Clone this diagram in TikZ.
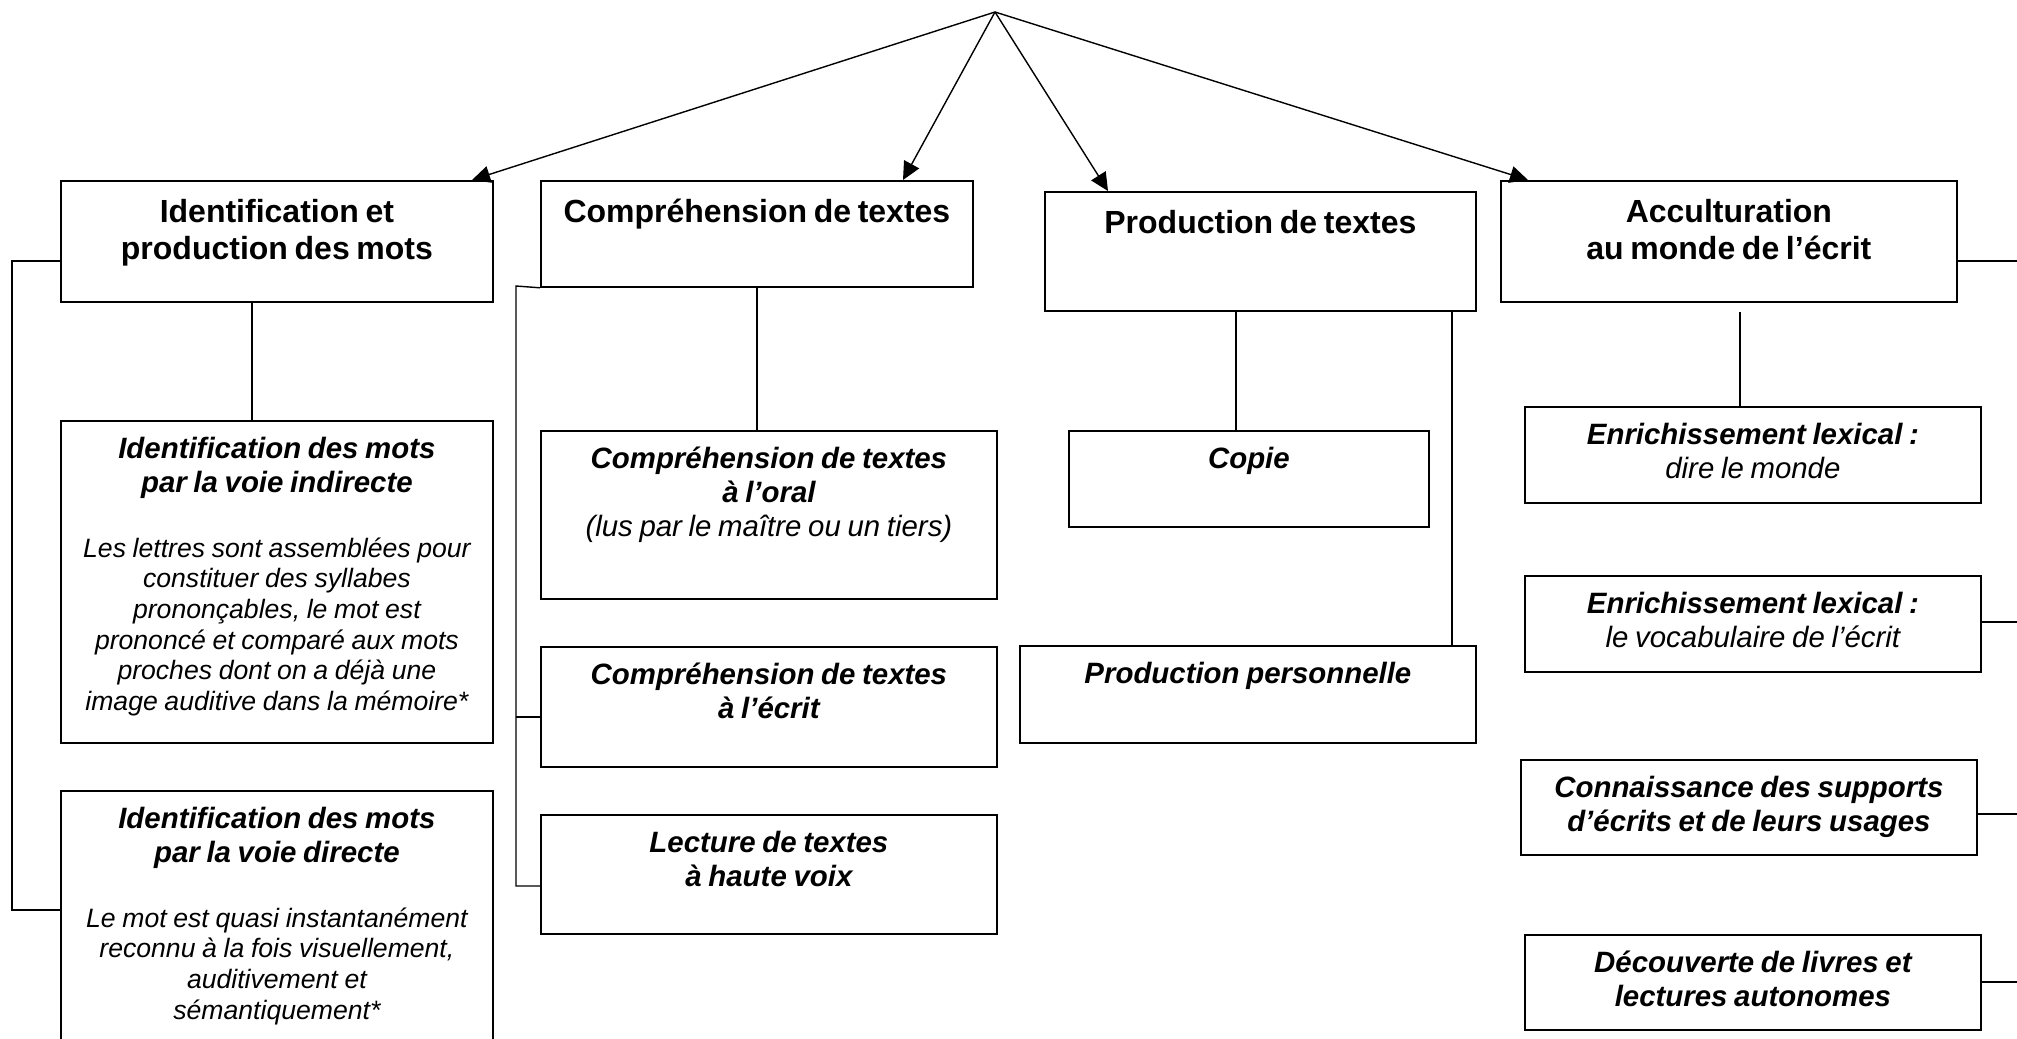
\documentclass[tikz,border=0pt]{standalone}
\usepackage{fontspec}
\setmainfont{Liberation Sans}
\usetikzlibrary{arrows.meta}
\setlength{\parindent}{0pt}

\newcommand{\titlefont}{\fontsize{16}{18.4}\selectfont\bfseries}
\newcommand{\subfont}{\fontsize{14.7}{16.9}\selectfont\bfseries\itshape}
\newcommand{\subplain}{\fontsize{14.7}{16.9}\selectfont\mdseries\itshape}
\newcommand{\descfont}{\fontsize{13.3}{15.3}\selectfont\mdseries\itshape}

\begin{document}
\begin{tikzpicture}[x=0.5pt,y=-0.5pt,
  box/.style={draw,line width=0.9pt,anchor=north west,inner sep=0pt},
  txt/.style={anchor=north,inner sep=0pt,text width=#1,align=center},
  link/.style={line width=0.7pt},
  arr/.style={line width=0.7pt,-{Triangle[length=9pt,width=8.5pt]}}]

\useasboundingbox (0,0) rectangle (2017,1038);
\clip (0,0) rectangle (2017,1038);

% Top level boxes
\node[box,minimum width=216pt,minimum height=60.5pt] (a) at (60,180) {};
\node[box,minimum width=216pt,minimum height=53pt] (b) at (540,180) {};
\node[box,minimum width=215.5pt,minimum height=59.5pt] (c) at (1044,191) {};
\node[box,minimum width=228pt,minimum height=60.5pt] (d) at (1500,180) {};

\node[txt=208pt] (a-t) at ([yshift=-8.1pt]a.north) {\titlefont\strut Identification et\\ production des mots\par};
\node[txt=208pt] (b-t) at ([yshift=-8.1pt]b.north) {\titlefont\strut Compréhension de textes\par};
\node[txt=208pt] (c-t) at ([yshift=-8.1pt]c.north) {\titlefont\strut Production de textes\par};
\node[txt=220pt] (d-t) at ([yshift=-8.1pt]d.north) {\titlefont\strut Acculturation\\ au monde de l’écrit\par};

% Identification et production des mots
\node[box,minimum width=216pt,minimum height=161pt] (a1) at (60,420) {};
\node[box,minimum width=216pt,minimum height=130pt] (a2) at (60,790) {};

\node[txt=210pt] (a1-t) at ([yshift=-7.2pt]a1.north) {\subfont\strut Identification des mots\\ par la voie indirecte\par\vspace{17.2pt}\descfont Les lettres sont assemblées pour\\ constituer des syllabes\\ prononçables, le mot est\\ prononcé et comparé aux mots\\ proches dont on a déjà une\\ image auditive dans la mémoire*\par};
\node[txt=210pt] (a2-t) at ([yshift=-7.2pt]a2.north) {\subfont\strut Identification des mots\\ par la voie directe\par\vspace{17.2pt}\descfont Le mot est quasi instantanément\\ reconnu à la fois visuellement,\\ auditivement et\\ sémantiquement*\par};

% Compréhension de textes
\node[box,minimum width=228pt,minimum height=84pt] (b1) at (540,430) {};
\node[box,minimum width=228pt,minimum height=60pt] (b2) at (540,646) {};
\node[box,minimum width=228pt,minimum height=59.5pt] (b3) at (540,814) {};

\node[txt=220pt] (b1-t) at ([yshift=-7.2pt]b1.north) {\subfont\strut Compréhension de textes\\ à l’oral\par\subplain (lus par le maître ou un tiers)\par};
\node[txt=220pt] (b2-t) at ([yshift=-7.2pt]b2.north) {\subfont\strut Compréhension de textes\\ à l’écrit\par};
\node[txt=220pt] (b3-t) at ([yshift=-7.2pt]b3.north) {\subfont\strut Lecture de textes\\ à haute voix\par};

% Production de textes
\node[box,minimum width=180pt,minimum height=48pt] (copie) at (1068,430) {};
\node[box,minimum width=228pt,minimum height=48.5pt] (perso) at (1019,645) {};

\node[txt=172pt] (copie-t) at ([yshift=-7.2pt]copie.north) {\subfont\strut Copie\par};
\node[txt=220pt] (perso-t) at ([yshift=-7.2pt]perso.north) {\subfont\strut Production personnelle\par};

% Acculturation au monde de l'écrit
\node[box,minimum width=228pt,minimum height=48pt] (d1) at (1524,406) {};
\node[box,minimum width=228pt,minimum height=48pt] (d2) at (1524,575) {};
\node[box,minimum width=228pt,minimum height=47.5pt] (d3) at (1520,759) {};
\node[box,minimum width=228pt,minimum height=47.5pt] (d4) at (1524,934) {};

\node[txt=220pt] (d1-t) at ([yshift=-7.2pt]d1.north) {\subfont\strut Enrichissement lexical :\par\subplain dire le monde\par};
\node[txt=220pt] (d2-t) at ([yshift=-7.2pt]d2.north) {\subfont\strut Enrichissement lexical :\par\subplain le vocabulaire de l’écrit\par};
\node[txt=220pt] (d3-t) at ([yshift=-7.2pt]d3.north) {\subfont\strut Connaissance des supports\\ d’écrits et de leurs usages\par};
\node[txt=220pt] (d4-t) at ([yshift=-7.2pt]d4.north) {\subfont\strut Découverte de livres et\\ lectures autonomes\par};

% Arrows from the top
\coordinate (apex) at (995,12);
\draw[arr] (apex) -- (a.north -| 472,0);
\draw[arr] (apex) -- (b.north -| 903,0);
\draw[arr] (apex) -- (c.north -| 1108,0);
\draw[arr] (apex) -- (d.north -| 1528,0);

% Links
\draw[link] (a.west |- 0,261) -- (12,261) |- (a2.west |- 0,910);
\draw[link] (a.south -| 252,0) -- (a1.north -| 252,0);

\draw[link] (b.south west) -- (516,286) |- (b3.west |- 0,886);
\draw[link] (516,717) -- (b2.west |- 0,717);
\draw[link] (b.south) -- (b1.north -| b.south);

\draw[link] (c.south -| 1236,0) -- (copie.north -| 1236,0);
\draw[link] (c.south -| 1452,0) -- (perso.north -| 1452,0);

\draw[link] (d.south -| 1740,0) ++(0,9) -- (d1.north -| 1740,0);

\coordinate (edge) at (2030,0);
\foreach \n/\yy in {d/261,d2/622,d3/814,d4/982}
  \draw[link] (\n.east |- 0,\yy) -- (edge |- 0,\yy);

\end{tikzpicture}
\end{document}
